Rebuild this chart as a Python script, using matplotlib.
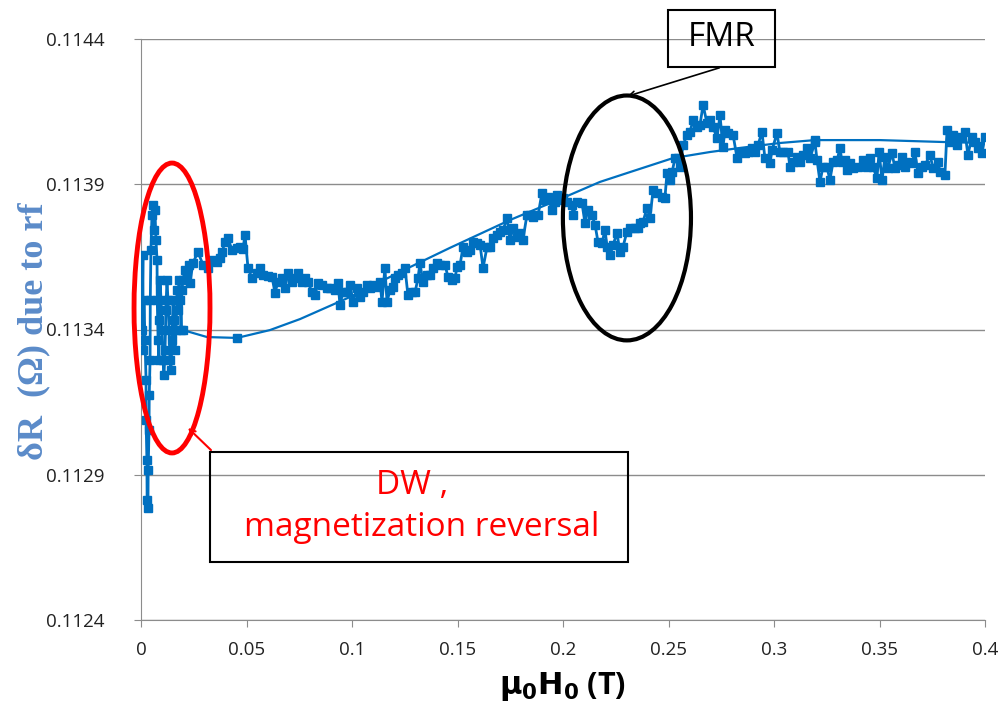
import numpy as np
import matplotlib.pyplot as plt
from matplotlib.patches import Ellipse, Rectangle

field = [0.0005, 0.0009, 0.0010, 0.0014, 0.0019, 0.0024, 0.0024, 0.0028, 0.0029, 0.0033,
         0.0034, 0.0038, 0.0039, 0.0043, 0.0044, 0.0047, 0.0052, 0.0057, 0.0062, 0.0066,
         0.0071, 0.0076, 0.0077, 0.0081, 0.0085, 0.0086, 0.0090, 0.0095, 0.0100, 0.0104,
         0.0109, 0.0114, 0.0118, 0.0123, 0.0128, 0.0133, 0.0137, 0.0142, 0.0147, 0.0152,
         0.0156, 0.0161, 0.0166, 0.0171, 0.0175, 0.0180, 0.0185, 0.0190, 0.0194, 0.0199,
         0.0209, 0.0218, 0.0227, 0.0232, 0.0246, 0.0270, 0.0294, 0.0318, 0.0336, 0.0360,
         0.0374, 0.0384, 0.0398, 0.0412, 0.0431, 0.0455, 0.0469, 0.0483, 0.0493, 0.0507,
         0.0526, 0.0550, 0.0564, 0.0578, 0.0602, 0.0621, 0.0635, 0.0649, 0.0668, 0.0682,
         0.0697, 0.0716, 0.0730, 0.0744, 0.0763, 0.0777, 0.0791, 0.0810, 0.0825, 0.0839,
         0.0858, 0.0882, 0.0896, 0.0919, 0.0934, 0.0943, 0.0957, 0.0976, 0.0991, 0.1005,
         0.1024, 0.1038, 0.1052, 0.1071, 0.1085, 0.1100, 0.1118, 0.1133, 0.1142, 0.1156,
         0.1166, 0.1180, 0.1194, 0.1204, 0.1218, 0.1237, 0.1251, 0.1265, 0.1284, 0.1299,
         0.1313, 0.1322, 0.1336, 0.1355, 0.1370, 0.1384, 0.1403, 0.1417, 0.1441, 0.1455,
         0.1474, 0.1488, 0.1498, 0.1512, 0.1526, 0.1545, 0.1559, 0.1573, 0.1592, 0.1607,
         0.1621, 0.1640, 0.1654, 0.1668, 0.1687, 0.1701, 0.1716, 0.1735, 0.1749, 0.1763,
         0.1782, 0.1796, 0.1810, 0.1829, 0.1844, 0.1858, 0.1882, 0.1900, 0.1915, 0.1929,
         0.1948, 0.1962, 0.1972, 0.1986, 0.2000, 0.2019, 0.2043, 0.2047, 0.2066, 0.2090,
         0.2104, 0.2118, 0.2137, 0.2152, 0.2166, 0.2185, 0.2199, 0.2209, 0.2223, 0.2237,
         0.2256, 0.2270, 0.2284, 0.2303, 0.2318, 0.2341, 0.2355, 0.2365, 0.2379, 0.2398,
         0.2412, 0.2427, 0.2445, 0.2469, 0.2483, 0.2493, 0.2507, 0.2517, 0.2531, 0.2545,
         0.2555, 0.2569, 0.2588, 0.2602, 0.2616, 0.2635, 0.2649, 0.2664, 0.2682, 0.2697,
         0.2711, 0.2730, 0.2744, 0.2758, 0.2768, 0.2782, 0.2806, 0.2825, 0.2839, 0.2863,
         0.2877, 0.2896, 0.2910, 0.2924, 0.2943, 0.2957, 0.2981, 0.2991, 0.3014, 0.3028,
         0.3043, 0.3066, 0.3076, 0.3090, 0.3109, 0.3123, 0.3137, 0.3156, 0.3171, 0.3194,
         0.3204, 0.3218, 0.3232, 0.3251, 0.3265, 0.3280, 0.3299, 0.3313, 0.3322, 0.3336,
         0.3346, 0.3360, 0.3374, 0.3398, 0.3422, 0.3441, 0.3455, 0.3469, 0.3488, 0.3498,
         0.3512, 0.3526, 0.3540, 0.3559, 0.3573, 0.3588, 0.3607, 0.3621, 0.3635, 0.3654,
         0.3668, 0.3682, 0.3701, 0.3716, 0.3739, 0.3754, 0.3777, 0.3787, 0.3810, 0.3820,
         0.3834, 0.3848, 0.3867, 0.3882, 0.3905, 0.3919, 0.3938, 0.3953, 0.3967, 0.3986,
         0.4000]

dR = [0.113398, 0.113656, 0.113329, 0.113502, 0.113364, 0.113226, 0.113088, 0.112951, 0.112813, 0.112786,
      0.112916, 0.113054, 0.113175, 0.113295, 0.113502, 0.113674, 0.113794, 0.113829, 0.113743, 0.113811,
      0.113708, 0.113639, 0.113502, 0.113364, 0.113295, 0.113433, 0.113570, 0.113502, 0.113398, 0.113295,
      0.113243, 0.113329, 0.113467, 0.113570, 0.113502, 0.113398, 0.113295, 0.113261, 0.113364, 0.113502,
      0.113433, 0.113329, 0.113398, 0.113536, 0.113467, 0.113570, 0.113502, 0.113398, 0.113536, 0.113570,
      0.113605, 0.113588, 0.113622, 0.113560, 0.113629, 0.113667, 0.113622, 0.113612, 0.113639, 0.113632,
      0.113646, 0.113667, 0.113701, 0.113715, 0.113674, 0.113681, 0.113684, 0.113677, 0.113725, 0.113612,
      0.113577, 0.113594, 0.113612, 0.113588, 0.113584, 0.113581, 0.113526, 0.113564, 0.113577, 0.113543,
      0.113594, 0.113564, 0.113577, 0.113594, 0.113564, 0.113577, 0.113564, 0.113529, 0.113519, 0.113560,
      0.113553, 0.113543, 0.113543, 0.113536, 0.113560, 0.113484, 0.113529, 0.113529, 0.113553, 0.113495,
      0.113543, 0.113512, 0.113529, 0.113553, 0.113543, 0.113553, 0.113546, 0.113564, 0.113495, 0.113612,
      0.113495, 0.113536, 0.113546, 0.113577, 0.113588, 0.113594, 0.113612, 0.113519, 0.113529, 0.113529,
      0.113577, 0.113629, 0.113564, 0.113588, 0.113588, 0.113612, 0.113629, 0.113622, 0.113622, 0.113581,
      0.113570, 0.113577, 0.113615, 0.113622, 0.113684, 0.113667, 0.113674, 0.113701, 0.113698, 0.113691,
      0.113612, 0.113684, 0.113684, 0.113715, 0.113725, 0.113736, 0.113743, 0.113784, 0.113708, 0.113749,
      0.113718, 0.113732, 0.113708, 0.113794, 0.113794, 0.113787, 0.113794, 0.113870, 0.113846, 0.113856,
      0.113811, 0.113839, 0.113863, 0.113846, 0.113853, 0.113839, 0.113829, 0.113794, 0.113839, 0.113835,
      0.113767, 0.113811, 0.113794, 0.113760, 0.113701, 0.113698, 0.113743, 0.113684, 0.113656, 0.113691,
      0.113732, 0.113667, 0.113684, 0.113736, 0.113749, 0.113749, 0.113749, 0.113767, 0.113770, 0.113818,
      0.113784, 0.113880, 0.113870, 0.113856, 0.113853, 0.113939, 0.113915, 0.113942, 0.113990, 0.113990,
      0.113959, 0.114035, 0.114070, 0.114080, 0.114121, 0.114097, 0.114104, 0.114173, 0.114111, 0.114121,
      0.114097, 0.114059, 0.114138, 0.114028, 0.114087, 0.114076, 0.114070, 0.113990, 0.114011, 0.114008,
      0.114011, 0.114025, 0.114011, 0.114035, 0.114080, 0.113990, 0.113973, 0.114018, 0.114076, 0.114011,
      0.114011, 0.114011, 0.113959, 0.113977, 0.113994, 0.113977, 0.114001, 0.114025, 0.113990, 0.114045,
      0.113983, 0.113908, 0.113959, 0.113959, 0.113915, 0.113977, 0.113983, 0.114025, 0.113977, 0.113983,
      0.113949, 0.113973, 0.113956, 0.113959, 0.113983, 0.113959, 0.113990, 0.113959, 0.113922, 0.114011,
      0.113915, 0.113994, 0.113956, 0.114008, 0.113956, 0.113966, 0.113994, 0.113959, 0.113977, 0.113973,
      0.114011, 0.113939, 0.113959, 0.113966, 0.114001, 0.113956, 0.113977, 0.113942, 0.113932, 0.114087,
      0.114045, 0.114070, 0.114035, 0.114063, 0.114080, 0.114001, 0.114063, 0.114045, 0.114025, 0.114008,
      0.114063]

# smooth trend curve
fit_field = [0.0199, 0.0313, 0.0455, 0.0611, 0.0754, 0.0991, 0.1227, 0.1464, 0.1749, 0.2009,
             0.2175, 0.2318, 0.2521, 0.2697, 0.2839, 0.3028, 0.3194, 0.3502, 0.3820, 0.4000]
fit_dR = [0.113398, 0.113374, 0.113371, 0.113398, 0.113436, 0.113512, 0.113598, 0.113681, 0.113777, 0.113856,
          0.113908, 0.113942, 0.113990, 0.114011, 0.114025, 0.114042, 0.114052, 0.114052, 0.114045, 0.114042]

xticks = [0, 0.05, 0.1, 0.15, 0.2, 0.25, 0.3, 0.35, 0.4]
xtick_labels = ['0', '0.05', '0.1', '0.15', '0.2', '0.25', '0.3', '0.35', '0.4']
yticks = [0.1124, 0.1129, 0.1134, 0.1139, 0.1144]

blue = '#0070C0'
W, H = 1007, 720

fig = plt.figure(figsize=(W / 100, H / 100), dpi=100)
ax = fig.add_axes([141 / W, 1 - 620 / H, 844 / W, 581 / H])

ax.plot(fit_field, fit_dR, color=blue, lw=1.6, marker='s', ms=5.5,
        markevery=[0, 2, 16], zorder=3)
ax.plot(field, dR, color=blue, lw=2.0, marker='s', ms=5.5, zorder=4)

ax.set_xlim(0, 0.4)
ax.set_ylim(0.1124, 0.1144)
ax.set_xticks(xticks)
ax.set_xticklabels(xtick_labels)
ax.set_yticks(yticks)
ax.set_yticklabels(['%.4f' % v for v in yticks])
ax.grid(axis='y', color='#8c8c8c', lw=1.0)
ax.set_axisbelow(True)
for s in ['top', 'right']:
    ax.spines[s].set_visible(False)
for s in ['left', 'bottom']:
    ax.spines[s].set_color('#8c8c8c')
ax.tick_params(axis='both', color='#8c8c8c', length=5, labelsize=13.5, labelcolor='#222222')
ax.tick_params(axis='x', pad=10)
ax.tick_params(axis='y', pad=21)
for lab in ax.get_xticklabels() + ax.get_yticklabels():
    lab.set_family('Open Sans')

ax.set_xlabel(r'$\mathbf{\mu_0 H_0}$ (T)', fontsize=22, fontweight='bold',
              family='Open Sans', labelpad=8)
ax.set_ylabel('δR  (Ω) due to rf', fontsize=26, fontweight='bold',
              family='Liberation Serif', color='#5B8BC9')
ax.yaxis.set_label_coords(-0.108, 0.497)

# highlight ellipses
ax.add_patch(Ellipse((0.0147, 0.113474), 0.036, 0.000998, fill=False,
                     ec='#FF0000', lw=3.5, clip_on=False, zorder=6))
ax.add_patch(Ellipse((0.2303, 0.113784), 0.0607, 0.000843, fill=False,
                     ec='black', lw=3, clip_on=False, zorder=6))

# FMR label box
fig.patches.append(Rectangle((668 / W, 1 - 67 / H), 107 / W, 57 / H, fill=False,
                             ec='black', lw=1.5, transform=fig.transFigure))
fig.text(722 / W, 1 - 38 / H, 'FMR', fontsize=24, family='Open Sans',
         ha='center', va='center')
ax.annotate('', xy=(625 / W, 1 - 97 / H), xytext=(722 / W, 1 - 67 / H),
            xycoords='figure fraction', textcoords='figure fraction',
            arrowprops=dict(arrowstyle='->', color='black', lw=1.2))

# DW label box
fig.patches.append(Rectangle((210 / W, 1 - 562 / H), 418 / W, 110 / H, fill=False,
                             ec='black', lw=1.5, transform=fig.transFigure))
fig.text(412 / W, 1 - 486 / H, 'DW ,', fontsize=24, family='Open Sans',
         color='#FF0000', ha='center', va='center')
fig.text(422 / W, 1 - 528 / H, 'magnetization reversal', fontsize=24,
         family='Open Sans', color='#FF0000', ha='center', va='center')
ax.annotate('', xy=(186 / W, 1 - 426 / H), xytext=(213 / W, 1 - 452 / H),
            xycoords='figure fraction', textcoords='figure fraction',
            arrowprops=dict(arrowstyle='->', color='#FF0000', lw=1.5))

plt.savefig('out.png', dpi=100)
